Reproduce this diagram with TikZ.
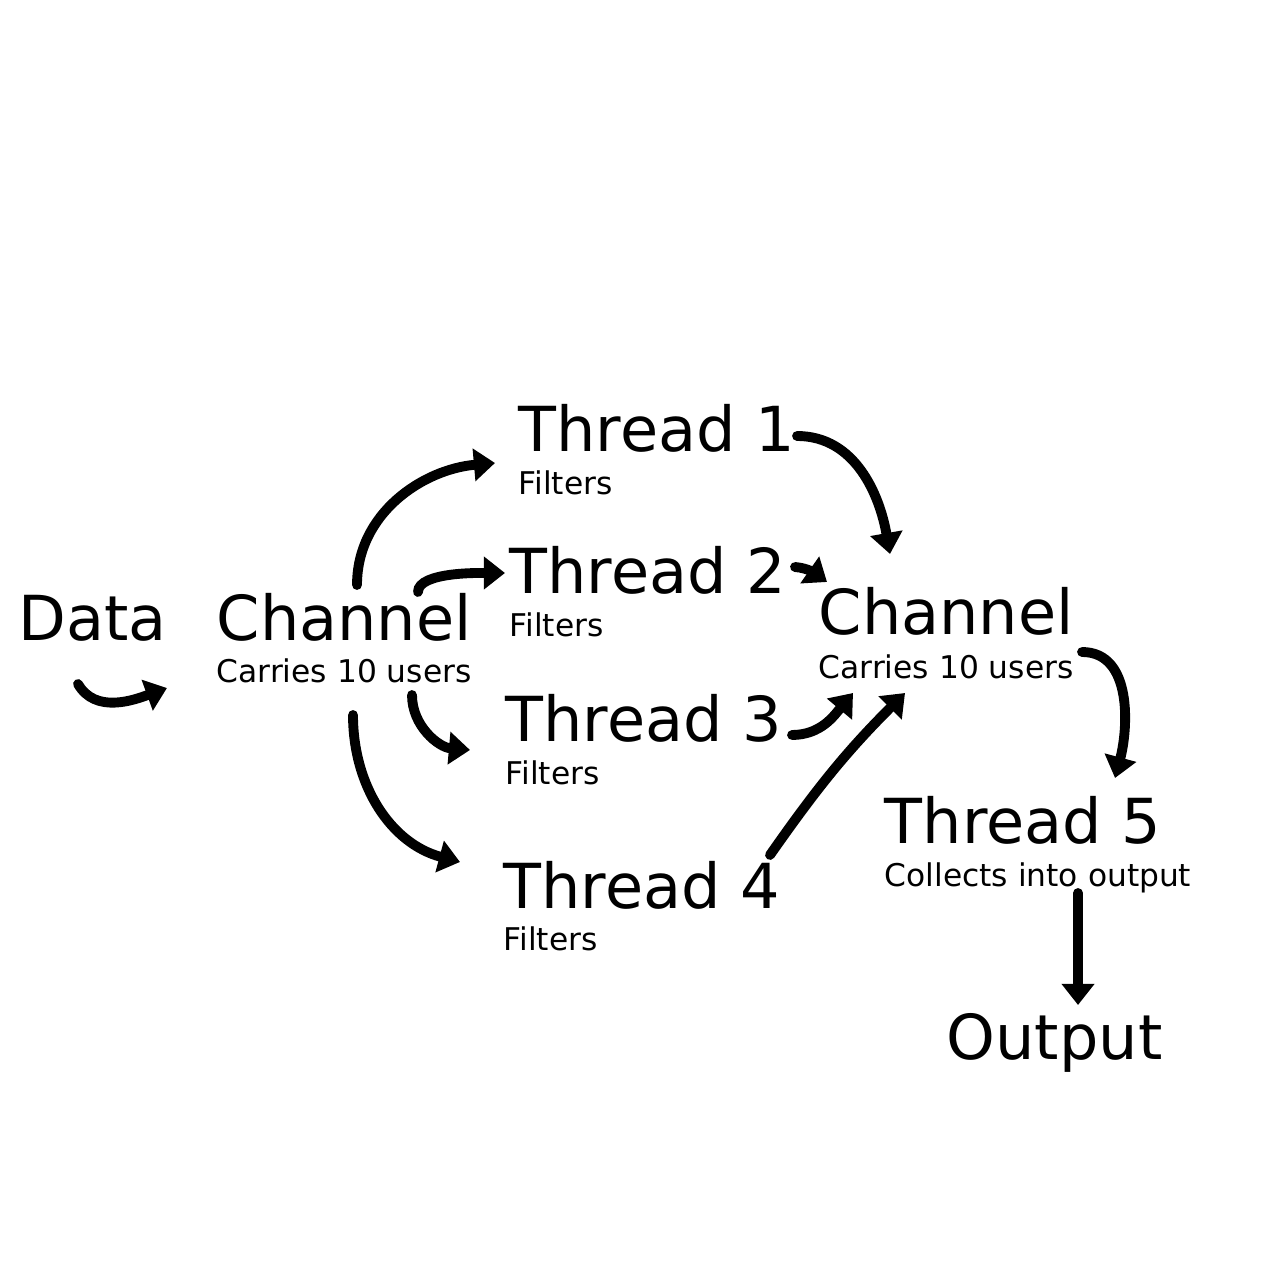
\documentclass[tikz,border=0pt]{standalone}
\usepackage{fontspec}
\setmainfont{DejaVu Sans}
\usepackage{tikz}
\usetikzlibrary{positioning, arrows.meta}

\begin{document}
\begin{tikzpicture}[
    x=0.01cm, y=-0.01cm,
    title/.style={inner sep=0pt, anchor=base west, font=\fontsize{17.65}{20}\selectfont},
    sub/.style={inner sep=0pt, font=\fontsize{8.9}{10}\selectfont},
    flow/.style={line width=2.8pt, line cap=round, -{Triangle[width=9pt, length=6pt]}}
]
    \useasboundingbox (0,0) rectangle (1280,1280);

    % Nodes
    \node[title] (data) at (18,641) {Data};
    \node[title] (ch1) at (216,641) {Channel};
    \node[sub, below=0.41cm of ch1.base west, anchor=base west] (ch1sub) {Carries 10 users};
    \node[title] (t1) at (518,452) {Thread 1};
    \node[sub, below=0.42cm of t1.base west, anchor=base west] (t1sub) {Filters};
    \node[title] (t2) at (509,594) {Thread 2};
    \node[sub, below=0.42cm of t2.base west, anchor=base west] (t2sub) {Filters};
    \node[title] (t3) at (505,741) {Thread 3};
    \node[sub, below=0.43cm of t3.base west, anchor=base west] (t3sub) {Filters};
    \node[title] (t4) at (503,908) {Thread 4};
    \node[sub, below=0.42cm of t4.base west, anchor=base west] (t4sub) {Filters};
    \node[title] (ch2) at (818,635) {Channel};
    \node[sub, below=0.43cm of ch2.base west, anchor=base west] (ch2sub) {Carries 10 users};
    \node[title] (t5) at (884,843) {Thread 5};
    \node[sub, below=0.43cm of t5.base west, anchor=base west] (t5sub) {Collects into output};
    \node[title] (out) at (946,1059) {Output};

    % Connectors
    \path[flow]
        ([shift={(60,43)}]data.base west) edge[out=-60, in=200] ([shift={(-49,47)}]ch1.base west)
        ([shift={(141,-56)}]ch1.base west) edge[out=90, in=185] ([shift={(-23,11)}]t1.base west)
        ([shift={(202,-49)}]ch1.base west) edge[out=90, in=180, looseness=0.6] ([shift={(-4,-21)}]t2.base west)
        ([shift={(196,54)}]ch1.base west) edge[out=-90, in=175] ([shift={(-35,9)}]t3.base west)
        ([shift={(137,74)}]ch1.base west) edge[out=-90, in=165] ([shift={(-43,-46)}]t4.base west)
        ([shift={(279,-16)}]t1.base west) edge[out=0, in=100] ([shift={(72,-81)}]ch2.base west)
        ([shift={(286,-27)}]t2.base west) edge[out=-5, in=145] ([shift={(9,-53)}]ch2.base west)
        ([shift={(287,-6)}]t3.base west) edge[out=0, in=230] ([shift={(35,58)}]ch2.base west)
        ([shift={(267,-53)}]t4.base west) edge[out=55, in=225] ([shift={(87,58)}]ch2.base west)
        ([shift={(264,17)}]ch2.base west) edge[out=0, in=75] ([shift={(231,-65)}]t5.base west)
        ([shift={(194,50)}]t5.base west) edge ([shift={(132,-54)}]out.base west);
\end{tikzpicture}
\end{document}
